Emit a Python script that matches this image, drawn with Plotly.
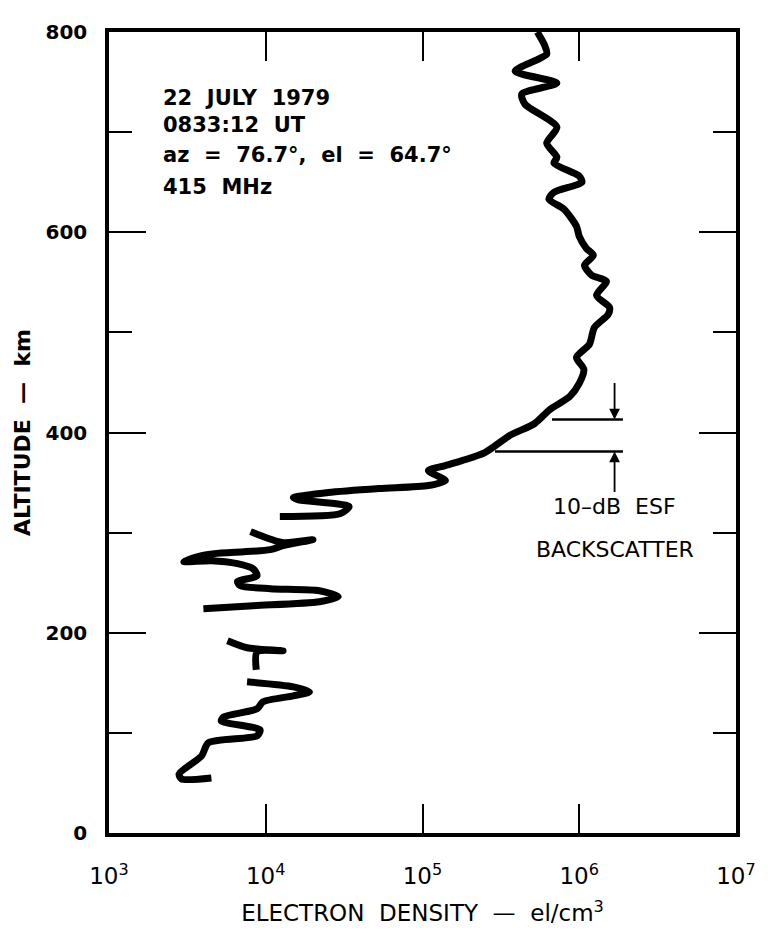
import math
import plotly.graph_objects as go

# ---- data ----
# Electron density profile (altitude km, density el/cm^3); None separates plotted pieces
ALT_A = [800, 787, 778, 761, 749, 738, 728, 705, 689, 675, 669, 656, 650, 640, 633, 623,
         606, 596, 584, 577, 567, 557, 551, 537, 525, 518, 505, 488, 475, 463, 449, 436,
         423, 409, 397, 380, 367, 362, 352, 347, 344, 340, 335, 333, 326, 319, 316]
DEN_A = [5.4e5, 6.0e5, 6.2e5, 3.9e5, 7.2e5, 4.3e5, 4.5e5, 7.2e5, 6.2e5, 7.2e5, 6.9e5, 1.0e6,
         1.04e6, 6.9e5, 6.4e5, 8.0e5, 9.6e5, 1.0e6, 1.11e6, 1.23e6, 1.08e6, 1.2e6, 1.49e6,
         1.29e6, 1.56e6, 1.53e6, 1.25e6, 1.16e6, 9.6e5, 1.07e6, 1.0e6, 8.7e5, 6.5e5, 5.2e5,
         3.6e5, 2.5e5, 1.4e5, 1.09e5, 1.4e5, 1.09e5, 5.3e4, 2.5e4, 1.5e4, 1.6e4, 3.4e4,
         3.0e4, 1.23e4]

ALT_B = [301, 290, 293, 287, 283, 279, 277, 271, 272, 269, 264, 257, 251, 247, 244, 242,
         236, 231, 227, 224]
DEN_B = [8.0e3, 1.29e4, 2.0e4, 1.29e4, 1.07e4, 4.7e3, 3.9e3, 3.0e3, 4.5e3, 6.6e3, 8.3e3,
         8.8e3, 6.6e3, 6.9e3, 1.07e4, 2.2e4, 2.9e4, 2.2e4, 8.3e3, 4.0e3]

ALT_C = [192, 185, 182, 181, 163]
DEN_C = [5.7e3, 7.6e3, 1.29e4, 8.8e3, 8.7e3]

ALT_D = [151, 146, 141, 137, 131, 124, 116, 112, 103, 97, 90, 77, 59, 54, 55]
DEN_D = [7.6e3, 1.5e4, 1.9e4, 1.5e4, 9.6e3, 8.8e3, 5.4e3, 5.2e3, 9.2e3, 8.8e3, 4.3e3,
         3.9e3, 2.8e3, 2.9e3, 4.5e3]

# 10-dB ESF backscatter markers
ESF_ALT = [413, 381]
ESF_DEN_START = [6.7e5, 2.9e5]
ESF_DEN_END = [1.9e6, 1.9e6]
ARROW_DEN = 1.68e6

X_TICKS = [1e3, 1e4, 1e5, 1e6, 1e7]
X_TICKTEXT = ["10<sup>3</sup>", "10<sup>4</sup>", "10<sup>5</sup>", "10<sup>6</sup>", "10<sup>7</sup>"]
Y_TICKS = [0, 200, 400, 600, 800]
Y_MINOR = [100, 300, 500, 700]

INFO_LINES = ["22  JULY  1979", "0833:12  UT", "az  =  76.7°,  el  =  64.7°", "415  MHz"]

# ---- build ----
alt = ALT_A + [None] + ALT_B + [None] + ALT_C + [None] + ALT_D
den = DEN_A + [None] + DEN_B + [None] + DEN_C + [None] + DEN_D

FONT = "DejaVu Sans"
fig = go.Figure()
fig.add_trace(go.Scatter(x=den, y=alt, mode="lines", connectgaps=False,
                         line=dict(color="black", width=7, shape="spline", smoothing=0.7),
                         hoverinfo="skip"))
for a, d0, d1 in zip(ESF_ALT, ESF_DEN_START, ESF_DEN_END):
    fig.add_trace(go.Scatter(x=[d0, d1], y=[a, a], mode="lines",
                             line=dict(color="black", width=2.5), hoverinfo="skip"))

ax_log = math.log10(ARROW_DEN)
fig.add_annotation(x=ax_log, y=ESF_ALT[0], ax=0, ay=-38, xref="x", yref="y",
                   showarrow=True, arrowhead=2, arrowsize=1.2, arrowwidth=1.8,
                   arrowcolor="black", text="")
fig.add_annotation(x=ax_log, y=ESF_ALT[1], ax=0, ay=42, xref="x", yref="y",
                   showarrow=True, arrowhead=2, arrowsize=1.2, arrowwidth=1.8,
                   arrowcolor="black", text="")
fig.add_annotation(x=ax_log, y=326, xref="x", yref="y", text="10–dB  ESF",
                   showarrow=False, font=dict(family=FONT, size=22, color="black"))
fig.add_annotation(x=ax_log, y=283, xref="x", yref="y", text="BACKSCATTER",
                   showarrow=False, font=dict(family=FONT, size=22, color="black"))

info_y = [734, 707, 677, 645]
for txt, yy in zip(INFO_LINES, info_y):
    fig.add_annotation(x=3.334, y=yy, xref="x", yref="y", text=txt, showarrow=False,
                       xanchor="left", yanchor="middle",
                       font=dict(family=FONT, size=21, color="black", weight="bold"))

# page body has an 8px margin, so the figure is shrunk/shifted to match the target
fig.update_layout(
    width=760, height=927,
    margin=dict(l=99, r=26, t=12, b=101),
    paper_bgcolor="white", plot_bgcolor="white",
    showlegend=False,
    font=dict(family=FONT, color="black"),
)
fig.update_xaxes(
    type="log", range=[3, 7],
    tickvals=X_TICKS, ticktext=X_TICKTEXT,
    ticks="inside", ticklen=29, tickwidth=2.2, tickcolor="black",
    showline=True, linewidth=3.5, linecolor="black", mirror="ticks",
    showgrid=False, zeroline=False,
    tickfont=dict(family=FONT, size=23, color="black"),
    ticklabelstandoff=20,
    title=dict(text="ELECTRON  DENSITY  —  el/cm<sup>3</sup>",
               font=dict(family=FONT, size=23, color="black"), standoff=18),
)
fig.update_yaxes(
    range=[0, 800],
    tickvals=Y_TICKS,
    ticks="inside", ticklen=37, tickwidth=2.2, tickcolor="black",
    minor=dict(tickvals=Y_MINOR, ticks="inside", ticklen=23, tickwidth=2.2, tickcolor="black"),
    showline=True, linewidth=3.5, linecolor="black", mirror="ticks",
    showgrid=False, zeroline=False,
    tickfont=dict(family=FONT, size=20, color="black", weight="bold"),
    ticklabelstandoff=14,
    title=dict(text="ALTITUDE  —  km",
               font=dict(family=FONT, size=22, color="black", weight="bold"), standoff=10),
)

fig.write_html("out.html")
